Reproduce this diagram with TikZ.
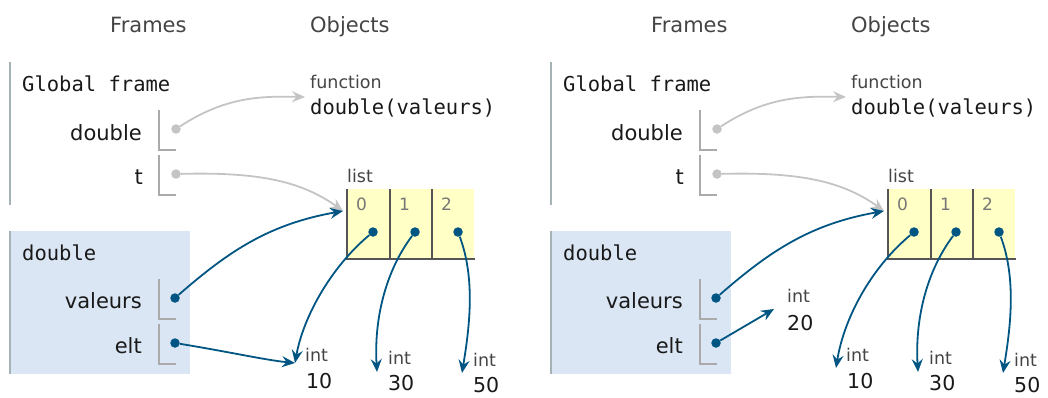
\documentclass[tikz,border=0pt]{standalone}
\usepackage{fontspec}
\setmainfont{DejaVu Sans}
\setmonofont{DejaVu Sans Mono}
\usetikzlibrary{arrows.meta}

\definecolor{arrowblue}{HTML}{005583}
\definecolor{ptrgray}{HTML}{C4C4C4}
\definecolor{framefill}{HTML}{DAE6F3}
\definecolor{listfill}{HTML}{FFFFC6}
\definecolor{framerule}{HTML}{A6B3B6}
\definecolor{brackgray}{HTML}{AAAAAA}
\definecolor{headgray}{HTML}{444444}
\definecolor{idxgray}{HTML}{777777}
\definecolor{cellrule}{HTML}{555555}

\tikzset{
  hdr/.style={font=\fontsize{21}{24}\selectfont, text=headgray, anchor=base west, inner sep=0},
  code/.style={font=\ttfamily\fontsize{20.5}{24}\selectfont, text=black!90, anchor=base west, inner sep=0},
  var/.style={font=\fontsize{21}{24}\selectfont, text=black!90, anchor=base east, inner sep=0},
  typ/.style={font=\fontsize{17.5}{20}\selectfont, text=headgray, anchor=base west, inner sep=0},
  val/.style={font=\fontsize{20.5}{24}\selectfont, text=black!90, anchor=base west, inner sep=0},
  idx/.style={font=\fontsize{17}{20}\selectfont, text=idxgray, anchor=base west, inner sep=0},
  bracket/.style={draw=brackgray, line width=1.2pt},
  ptr/.style={-{Stealth[length=13pt,width=11pt,inset=4.5pt]}, line width=1.8pt, draw=arrowblue},
  gptr/.style={ptr, draw=ptrgray},
  bdot/.style={circle, fill=arrowblue, inner sep=0, minimum size=9.5pt},
  gdot/.style={bdot, fill=ptrgray},
}

\begin{document}
\begin{tikzpicture}[x=1pt, y=-1pt]
\useasboundingbox (0,0) rectangle (1048,397);

\foreach \p/\dx/\tz in {L/0/363, R/541/368}{
\begin{scope}[xshift=\dx pt]
  % column headings
  \node[hdr] (\p-frames) at (110,32) {Frames};
  \node[hdr] (\p-objects) at (310,32) {Objects};

  % global frame
  \draw[framerule, line width=1.2pt] (10,62) -- (10,205);
  \node[code] (\p-global) at (22,91) {Global frame};
  \node[var] (\p-vdouble) at (142,140) {double};
  \draw[bracket] (159,110) -- (159,150) -- (176,150);
  \node[var] (\p-vt) at (143,184) {t};
  \draw[bracket] (159,155) -- (159,195) -- (176,195);

  % function object
  \node[typ] (\p-ftype) at (310,88) {function};
  \node[code] (\p-fname) at (310,114) {double(valeurs)};
  \coordinate (\p-fin) at (305,97);

  % list object
  \node[typ] (\p-ltype) at (347,182) {list};
  \fill[listfill] (347,189) rectangle (474,259);
  \draw[cellrule, line width=1.2pt] (347,189) -- (347,259) -- (475,259);
  \draw[cellrule, line width=1.2pt] (390,189) -- (390,259);
  \draw[cellrule, line width=1.2pt] (432,189) -- (432,259);
  \node[idx] (\p-i0) at (356,210) {0};
  \node[idx] (\p-i1) at (399,210) {1};
  \node[idx] (\p-i2) at (441,210) {2};
  \coordinate (\p-lin) at (343,211);

  % frame of the call double(t)
  \fill[framefill] (10,231) rectangle (190,374);
  \draw[framerule, line width=1.2pt] (10,231) -- (10,374);
  \node[code] (\p-call) at (22,260) {double};
  \node[var] (\p-vval) at (142,308) {valeurs};
  \draw[bracket] (159,279) -- (159,319) -- (176,319);
  \node[var] (\p-velt) at (142,353) {elt};
  \draw[bracket] (159,324) -- (159,364) -- (176,364);

  % int objects
  \node[typ] (\p-t10) at (305,361) {int};
  \node[val] (\p-n10) at (306,388) {10};
  \node[typ] (\p-t30) at (388,364) {int};
  \node[val] (\p-n30) at (388,390) {30};
  \node[typ] (\p-t50) at (473,366) {int};
  \node[val] (\p-n50) at (473,392) {50};
  \coordinate (\p-in10) at (295,\tz);
  \coordinate (\p-in30) at (377,372);
  \coordinate (\p-in50) at (462,373);

  % pointer dots
  \node[gdot] (\p-ddouble) at (176,129) {};
  \node[gdot] (\p-dt) at (176,174) {};
  \node[bdot] (\p-dval) at (175,298) {};
  \node[bdot] (\p-delt) at (175,343) {};
  \node[bdot] (\p-d0) at (373,232) {};
  \node[bdot] (\p-d1) at (415,232) {};
  \node[bdot] (\p-d2) at (458,232) {};

  % references
  \draw[gptr] (\p-ddouble) .. controls (225,97) and (260,96) .. (\p-fin);
  \draw[gptr] (\p-dt) .. controls (255,172) and (300,180) .. (\p-lin);
  \draw[ptr] (\p-dval) .. controls (230,250) and (270,224) .. (\p-lin);
  \draw[ptr] (\p-d0) .. controls (330,268) and (303,318) .. (\p-in10);
  \draw[ptr] (\p-d1) .. controls (385,272) and (374,320) .. (\p-in30);
  \draw[ptr] (\p-d2) .. controls (476,280) and (469,330) .. (\p-in50);
\end{scope}
}

% value held by elt
\draw[ptr] (L-delt) .. controls (230,352) and (265,360) .. (L-in10);

\node[typ] (R-t20) at (787,302) {int};
\node[val] (R-n20) at (787,330) {20};
\coordinate (R-in20) at (774,309);
\draw[ptr] (R-delt) -- (R-in20);
\end{tikzpicture}
\end{document}
